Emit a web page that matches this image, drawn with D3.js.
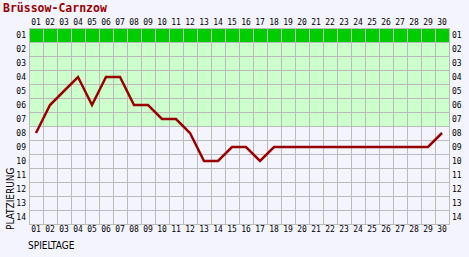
<!DOCTYPE html>
<html lang="de">
<head>
<meta charset="utf-8">
<title>Brüssow-Carnzow</title>
<script src="https://d3js.org/d3.v7.min.js"></script>
<style>
body { margin:0; background:#f4f4ff; }
svg { display:block; }
.tick text { font-family:"DejaVu Sans Mono", monospace; font-size:8px; fill:#000; }
.axis path, .axis line { display:none; }
</style>
</head>
<body>
<script>
// data
var title = "Brüssow-Carnzow";
var spieltage = d3.range(1, 31);
var platz = [8, 6, 5, 4, 6, 4, 4, 6, 6, 7, 7, 8, 10, 10, 9, 9, 10, 9, 9, 9, 9, 9, 9, 9, 9, 9, 9, 9, 9, 8];
var plaetze = d3.range(1, 15);
var aufstieg = [1];            // dark green row
var sicher = [2, 3, 4, 5, 6, 7]; // light green rows

var W = 469, H = 257;
var plot = {left: 29, right: 449, top: 28, bottom: 224};

var svg = d3.select("body").append("svg")
    .attr("width", W)
    .attr("height", H);

var pad = (n) => (n < 10 ? "0" : "") + n;

var x = d3.scaleBand().domain(spieltage).range([plot.left, plot.right]);
var y = d3.scaleBand().domain(plaetze).range([plot.top, plot.bottom]);

function rowFill(p) {
  if (aufstieg.indexOf(p) >= 0) return "#00cc00";
  if (sicher.indexOf(p) >= 0) return "#ccffcc";
  return "#f4f4ff";
}

// cells (grid)
var cells = [];
plaetze.forEach(function(p) { spieltage.forEach(function(s) { cells.push({s:s, p:p}); }); });

svg.append("g")
    .attr("transform", "translate(0.5,0.5)")
  .selectAll("rect")
  .data(cells)
  .enter().append("rect")
    .attr("x", d => x(d.s))
    .attr("y", d => y(d.p))
    .attr("width", x.bandwidth())
    .attr("height", y.bandwidth())
    .attr("fill", d => rowFill(d.p))
    .attr("stroke", "#bbbbbb")
    .attr("stroke-width", 1);

// axes
svg.append("g").attr("class", "axis")
    .attr("transform", "translate(0," + (plot.top - 3) + ")")
    .call(d3.axisTop(x).tickSize(0).tickPadding(0).tickFormat(pad));
svg.append("g").attr("class", "axis")
    .attr("transform", "translate(0," + (plot.bottom + 8) + ")")
    .call(d3.axisTop(x).tickSize(0).tickPadding(0).tickFormat(pad));
svg.append("g").attr("class", "axis")
    .attr("transform", "translate(" + (plot.left - 3) + ",0)")
    .call(d3.axisLeft(y).tickSize(0).tickPadding(0).tickFormat(pad));
svg.append("g").attr("class", "axis")
    .attr("transform", "translate(" + (plot.right + 3) + ",0)")
    .call(d3.axisRight(y).tickSize(0).tickPadding(0).tickFormat(pad));

// line
var line = d3.line()
    .x((d, i) => x(spieltage[i]) + x.bandwidth() / 2)
    .y(d => y(d) + y.bandwidth() / 2);

svg.append("path")
    .datum(platz)
    .attr("d", line)
    .attr("fill", "none")
    .attr("stroke", "#990000")
    .attr("stroke-width", 2.5)
    .attr("stroke-linejoin", "miter");

// texts
svg.append("text")
    .attr("x", 3).attr("y", 12)
    .attr("font-family", "DejaVu Sans Mono, monospace")
    .attr("font-size", "11.5px").attr("font-weight", "bold")
    .attr("fill", "#990000")
    .text(title);

svg.append("text")
    .attr("x", 28).attr("y", 249)
    .attr("font-family", "DejaVu Sans Condensed, sans-serif")
    .attr("font-size", "10px")
    .attr("fill", "#000")
    .text("SPIELTAGE");

svg.append("text")
    .attr("transform", "translate(14,230) rotate(-90)")
    .attr("font-family", "DejaVu Sans Condensed, sans-serif")
    .attr("font-size", "10px")
    .attr("fill", "#000")
    .text("PLATZIERUNG");
</script>
</body>
</html>
